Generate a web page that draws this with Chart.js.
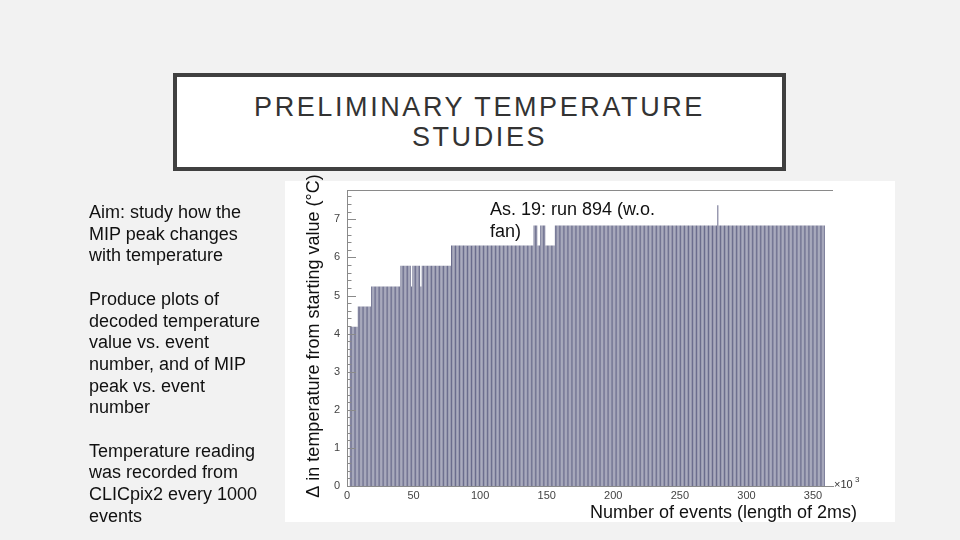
<!DOCTYPE html>
<html>
<head>
<meta charset="utf-8">
<script src="https://cdn.jsdelivr.net/npm/chart.js@4.4.1/dist/chart.umd.min.js"></script>
<style>
html,body{margin:0;padding:0;background:#f2f2f2;width:960px;height:540px;overflow:hidden;font-family:"Liberation Sans",Arial,sans-serif;}
#chart{position:absolute;left:0;top:0;width:960px;height:540px;}
#titlebox{position:absolute;left:173px;top:73px;width:605px;height:90px;border:4px solid #404040;background:#fff;text-align:center;}
#titlebox div{padding-top:15px;font-size:27px;line-height:30px;letter-spacing:2.6px;color:#333;}
#notes{position:absolute;left:89px;top:202px;width:210px;font-size:18px;line-height:21.7px;color:#111;}
</style>
</head>
<body>
<canvas id="chart" width="960" height="540"></canvas>
<div id="titlebox"><div>PRELIMINARY TEMPERATURE<br>STUDIES</div></div>
<div id="notes">Aim: study how the<br>MIP peak changes<br>with temperature<br><br>Produce plots of<br>decoded temperature<br>value vs. event<br>number, and of MIP<br>peak vs. event<br>number<br><br>Temperature reading<br>was recorded from<br>CLICpix2 every 1000<br>events</div>
<script>
// Δ temperature (°C) per bin of 1000 events (bin index = thousands of events)
const deltaT = [
 0,0,4.18,4.18,4.18,4.18,4.18,4.18,4.71,4.71,
 4.71,4.71,4.71,4.71,4.71,4.71,4.71,4.71,5.24,5.24,
 5.24,5.24,5.24,5.24,5.24,5.24,5.24,5.24,5.24,5.24,
 5.24,5.24,5.24,5.24,5.24,5.24,5.24,5.24,5.24,5.24,
 5.78,5.78,5.78,5.78,5.78,5.78,5.78,5.78,5.24,5.78,
 5.78,5.78,5.78,5.78,5.78,5.24,5.78,5.78,5.78,5.78,
 5.78,5.78,5.78,5.78,5.78,5.78,5.78,5.78,5.78,5.78,
 5.78,5.78,5.78,5.78,5.78,5.78,5.78,5.78,6.31,6.31,
 6.31,6.31,6.31,6.31,6.31,6.31,6.31,6.31,6.31,6.31,
 6.31,6.31,6.31,6.31,6.31,6.31,6.31,6.31,6.31,6.31,
 6.31,6.31,6.31,6.31,6.31,6.31,6.31,6.31,6.31,6.31,
 6.31,6.31,6.31,6.31,6.31,6.31,6.31,6.31,6.31,6.31,
 6.31,6.31,6.31,6.31,6.31,6.31,6.31,6.31,6.31,6.31,
 6.31,6.31,6.31,6.31,6.31,6.31,6.31,6.31,6.31,6.31,
 6.84,6.84,6.84,6.31,6.31,6.84,6.84,6.84,6.84,6.31,
 6.31,6.31,6.31,6.31,6.31,6.31,6.84,6.84,6.84,6.84,
 6.84,6.84,6.84,6.84,6.84,6.84,6.84,6.84,6.84,6.84,
 6.84,6.84,6.84,6.84,6.84,6.84,6.84,6.84,6.84,6.84,
 6.84,6.84,6.84,6.84,6.84,6.84,6.84,6.84,6.84,6.84,
 6.84,6.84,6.84,6.84,6.84,6.84,6.84,6.84,6.84,6.84,
 6.84,6.84,6.84,6.84,6.84,6.84,6.84,6.84,6.84,6.84,
 6.84,6.84,6.84,6.84,6.84,6.84,6.84,6.84,6.84,6.84,
 6.84,6.84,6.84,6.84,6.84,6.84,6.84,6.84,6.84,6.84,
 6.84,6.84,6.84,6.84,6.84,6.84,6.84,6.84,6.84,6.84,
 6.84,6.84,6.84,6.84,6.84,6.84,6.84,6.84,6.84,6.84,
 6.84,6.84,6.84,6.84,6.84,6.84,6.84,6.84,6.84,6.84,
 6.84,6.84,6.84,6.84,6.84,6.84,6.84,6.84,6.84,6.84,
 6.84,6.84,6.84,6.84,6.84,6.84,6.84,6.84,7.37,6.84,
 6.84,6.84,6.84,6.84,6.84,6.84,6.84,6.84,6.84,6.84,
 6.84,6.84,6.84,6.84,6.84,6.84,6.84,6.84,6.84,6.84,
 6.84,6.84,6.84,6.84,6.84,6.84,6.84,6.84,6.84,6.84,
 6.84,6.84,6.84,6.84,6.84,6.84,6.84,6.84,6.84,6.84,
 6.84,6.84,6.84,6.84,6.84,6.84,6.84,6.84,6.84,6.84,
 6.84,6.84,6.84,6.84,6.84,6.84,6.84,6.84,6.84,6.84,
 6.84,6.84,6.84,6.84,6.84,6.84,6.84,6.84,6.84,6.84,
 6.84,6.84,6.84,6.84,6.84,6.84,6.84,6.84,6.84
];
const xTickValues = [0, 50, 100, 150, 200, 250, 300, 350];
const yTickValues = [0, 1, 2, 3, 4, 5, 6, 7];
const xAxisTitle = 'Number of events (length of 2ms)';
const yAxisTitle = 'Δ in temperature from starting value (°C)';
const runLabel = ['As. 19: run 894 (w.o.', 'fan)'];

const points = deltaT.map((v, i) => ({x: i + 0.5, y: v}));
const FONT = '"Liberation Sans", Arial, sans-serif';

const decor = {
  id: 'decor',
  beforeDraw(chart) {
    const c = chart.ctx;
    c.save();
    c.fillStyle = '#ffffff';
    c.fillRect(285, 181, 610, 341);
    c.restore();
  },
  afterDatasetsDraw(chart) {
    const c = chart.ctx, a = chart.chartArea, ys = chart.scales.y;
    c.save();
    c.strokeStyle = '#8a8a8a';
    c.lineWidth = 1;
    c.beginPath(); c.moveTo(a.left, a.top + 0.5); c.lineTo(a.right, a.top + 0.5); c.stroke();
    for (let k = 0; k <= 38; k++) {
      const py = Math.round(ys.getPixelForValue(k / 5)) + 0.5;
      const len = (k % 5 === 0) ? 9 : 4.5;
      c.beginPath(); c.moveTo(a.left, py); c.lineTo(a.left + len, py); c.stroke();
    }
    c.fillStyle = '#111';
    c.font = '18px ' + FONT;
    c.textAlign = 'left'; c.textBaseline = 'alphabetic';
    c.fillText(runLabel[0], 490, 215);
    c.fillText(runLabel[1], 490, 237);
    c.textAlign = 'right';
    c.fillText(xAxisTitle, 857, 518);
    c.fillStyle = '#333';
    c.font = '11px ' + FONT;
    c.textAlign = 'left';
    c.fillText('×10', 834, 488);
    c.font = '8px ' + FONT;
    c.fillText('3', 855, 482);
    c.fillStyle = '#111';
    c.font = '18px ' + FONT;
    c.translate(319, 336);
    c.rotate(-Math.PI / 2);
    c.textAlign = 'center';
    c.fillText(yAxisTitle, 0, 0);
    c.restore();
  }
};

new Chart(document.getElementById('chart'), {
  type: 'bar',
  data: {
    datasets: [{
      data: points,
      backgroundColor: '#6a6c8c',
      borderWidth: 0,
      inflateAmount: 0,
      barPercentage: 1,
      categoryPercentage: 0.76
    }]
  },
  options: {
    responsive: false,
    animation: false,
    events: [],
    layout: {padding: {left: 307, right: 127, top: 190, bottom: 24}},
    plugins: {legend: {display: false}, tooltip: {enabled: false}, title: {display: false}},
    scales: {
      x: {
        type: 'linear', min: 0, max: 365, offset: false,
        afterBuildTicks(s) { s.ticks = xTickValues.map(v => ({value: v})); },
        afterFit(s) { s.height = 30; },
        ticks: {font: {family: FONT, size: 11}, color: '#444', padding: 3, maxRotation: 0, autoSkip: false},
        grid: {display: false, drawTicks: false, offset: false},
        border: {display: true, color: '#8a8a8a'}
      },
      y: {
        min: 0, max: 7.77,
        afterBuildTicks(s) { s.ticks = yTickValues.map(v => ({value: v})); },
        afterFit(s) { s.width = 40; },
        ticks: {font: {family: FONT, size: 11}, color: '#444', padding: 7},
        grid: {display: false, drawTicks: false},
        border: {display: true, color: '#8a8a8a'}
      }
    }
  },
  plugins: [decor]
});
</script>
</body>
</html>
